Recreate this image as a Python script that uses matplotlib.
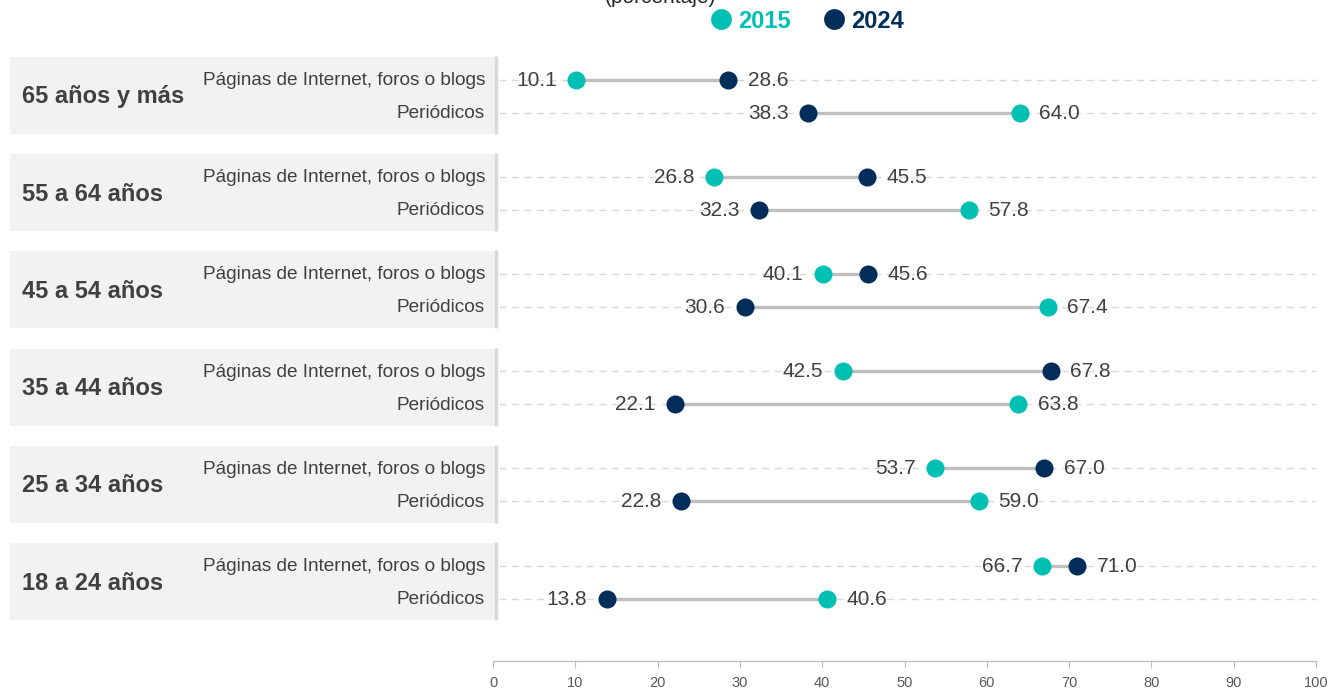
import matplotlib
matplotlib.use("Agg")
import matplotlib.pyplot as plt
from matplotlib.patches import Rectangle
from matplotlib.lines import Line2D

plt.rcParams['font.family'] = ['Liberation Sans', 'DejaVu Sans']

groups = ["65 años y más", "55 a 64 años", "45 a 54 años",
          "35 a 44 años", "25 a 34 años", "18 a 24 años"]
media = ["Páginas de Internet, foros o blogs", "Periódicos"]
# values per group: [internet, periodicos]
v2015 = [[10.1, 64.0], [26.8, 57.8], [40.1, 67.4],
         [42.5, 63.8], [53.7, 59.0], [66.7, 40.6]]
v2024 = [[28.6, 38.3], [45.5, 32.3], [45.6, 30.6],
         [67.8, 22.1], [67.0, 22.8], [71.0, 13.8]]
xticks = list(range(0, 101, 10))

C15 = "#00bfb3"
C24 = "#002d5a"
W, H = 1340, 688
fig = plt.figure(figsize=(W / 100, H / 100), dpi=100)

x0_px, x1_px = 493, 1316
y_top_px, y_bot_px = 50, 661
ax = fig.add_axes([x0_px / W, 1 - y_bot_px / H, (x1_px - x0_px) / W, (y_bot_px - y_top_px) / H])
ax.set_xlim(0, 100)
ax.set_ylim(y_bot_px, y_top_px)

def px2x(px):
    return (px - x0_px) / (x1_px - x0_px) * 100

g0, gstep, half = 96.0, 97.2, 16.5

for i, g in enumerate(groups):
    c = g0 + i * gstep
    # group band
    ax.add_patch(Rectangle((px2x(10), c - 39), px2x(497) - px2x(10), 77,
                           facecolor="#f2f2f2", edgecolor="none", clip_on=False, zorder=0))
    ax.plot([px2x(496), px2x(496)], [c - 40, c + 38], color="#d9d9d9", lw=2.5,
            clip_on=False, zorder=1, solid_capstyle="butt")
    ax.text(px2x(22), c + 1, g, ha="left", va="center", fontsize=17, fontweight="bold",
            color="#404040", clip_on=False)
    for j, m in enumerate(media):
        y = c - half + j * 2 * half
        ax.plot([px2x(499), 100], [y, y], color="#d9d9d9", lw=1, ls=(0, (5, 4)),
                clip_on=False, zorder=1)
        ax.text(px2x(485), y + 1, m, ha="right", va="center", fontsize=13.7, color="#404040",
                clip_on=False)
        a, b = v2015[i][j], v2024[i][j]
        ax.plot([a, b], [y, y], color="#bfbfbf", lw=2.4, zorder=2, solid_capstyle="butt")
        ax.plot(a, y, "o", ms=13, color=C15, mec="none", zorder=3)
        ax.plot(b, y, "o", ms=13, color=C24, mec="none", zorder=3)
        lo, hi = (a, b) if a <= b else (b, a)
        ax.annotate(f"{lo:.1f}", (lo, y), xytext=(-14, -0.5), textcoords="offset points",
                    ha="right", va="center", fontsize=15, color="#404040")
        ax.annotate(f"{hi:.1f}", (hi, y), xytext=(14, -0.5), textcoords="offset points",
                    ha="left", va="center", fontsize=15, color="#404040")

for s in ["top", "right", "left"]:
    ax.spines[s].set_visible(False)
ax.spines["bottom"].set_color("#bfbfbf")
ax.spines["bottom"].set_linewidth(1)
ax.set_yticks([])
ax.set_xticks(xticks)
ax.set_xticklabels([str(t) for t in xticks])
ax.tick_params(axis="x", length=5, color="#bfbfbf", labelsize=10.5, labelcolor="#595959", pad=6)
ax.patch.set_visible(False)

fig.text(660 / W, 1 - 3 / H, "(porcentaje)", ha="center", va="baseline", fontsize=15,
         color="#262626")

handles = [Line2D([], [], ls="none", marker="o", ms=15, color=C15, mec="none"),
           Line2D([], [], ls="none", marker="o", ms=15, color=C24, mec="none")]
leg = fig.legend(handles, ["2015", "2024"], loc="center", ncol=2, frameon=False,
                 bbox_to_anchor=(806 / W, 1 - 21 / H), handletextpad=0.15,
                 columnspacing=1.3, handlelength=1.1, prop={"size": 17, "weight": "bold"})
for t, c in zip(leg.get_texts(), [C15, C24]):
    t.set_color(c)

fig.savefig("out.png", dpi=100)
